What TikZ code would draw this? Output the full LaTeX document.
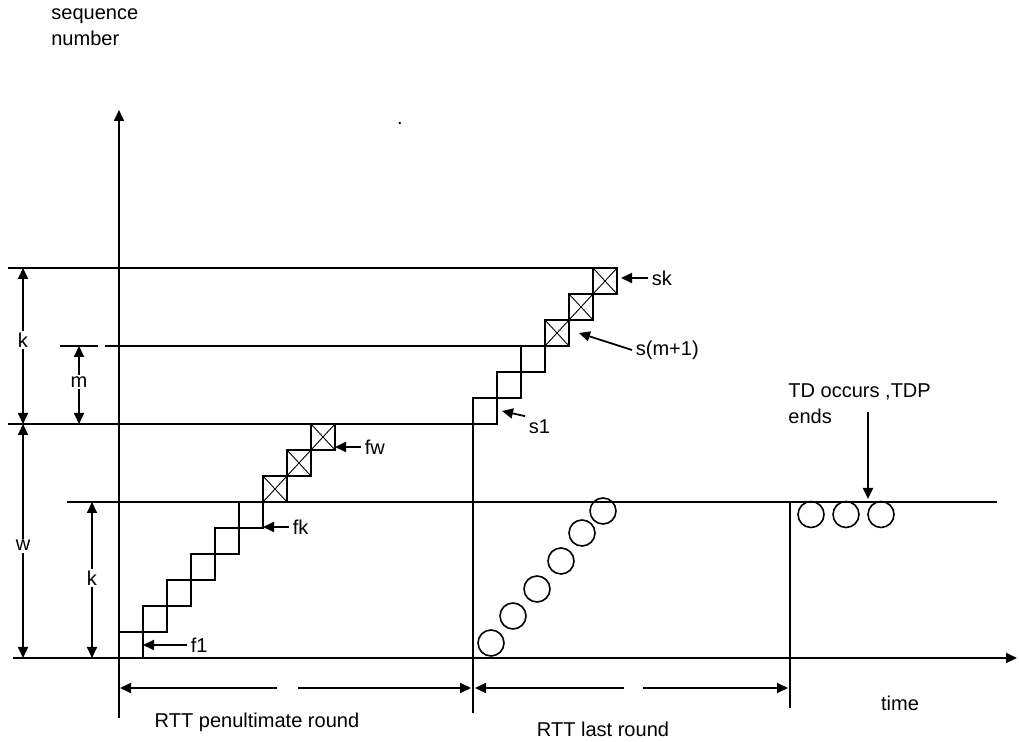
\documentclass[tikz,border=0pt]{standalone}
\usepackage{fontspec}
\setmainfont{Liberation Sans}
\usetikzlibrary{arrows.meta,calc}

\begin{document}
\begin{tikzpicture}[
  pkt/.style={rectangle, draw, line width=1pt, minimum width=0.48cm, minimum height=0.52cm, inner sep=0pt, outer sep=0pt},
  lost/.style={pkt, path picture={\draw[line width=0.5pt] (path picture bounding box.south west) -- (path picture bounding box.north east) (path picture bounding box.north west) -- (path picture bounding box.south east);}},
  ack/.style={circle, draw, line width=0.9pt, minimum size=0.52cm, inner sep=0pt},
  arrow/.style={-{Triangle[length=0.22cm,width=0.2cm]}, line width=1pt},
  dim/.style={{Triangle[length=0.22cm,width=0.2cm]}-{Triangle[length=0.22cm,width=0.2cm]}, line width=1pt},
  guide/.style={line width=1pt},
  tag/.style={fill=white, inner sep=1pt},
  lbl/.style={anchor=west, inner sep=2pt},
  every node/.style={font=\fontsize{11.4pt}{15pt}\selectfont}
]
\useasboundingbox (-2.38,-1.68) rectangle (18.0,13.16);

% Axes
\draw[arrow] (0,-1.2) -- (0,10.96);
\draw[arrow] (-2.12,0) -- (17.96,0);
\node[anchor=north west, align=left, inner sep=0pt] (ylab) at (-1.36,13.0) {sequence\\number};
\node (stray) at (5.62,10.7) {.};

% Penultimate round
\node[pkt] (f1) at (0.24,0.26) {};
\node[pkt] (f2) at (0.72,0.78) {};
\node[pkt] (f3) at (1.20,1.30) {};
\node[pkt] (f4) at (1.68,1.82) {};
\node[pkt] (f5) at (2.16,2.34) {};
\node[pkt] (f6) at (2.64,2.86) {};
\node[lost] (f7) at (3.12,3.38) {};
\node[lost] (f8) at (3.60,3.90) {};
\node[lost] (f9) at (4.08,4.42) {};

% Last round
\node[pkt] (s1) at (7.32,4.94) {};
\node[pkt] (s2) at (7.80,5.46) {};
\node[pkt] (s3) at (8.28,5.98) {};
\node[lost] (s4) at (8.76,6.50) {};
\node[lost] (s5) at (9.24,7.02) {};
\node[lost] (s6) at (9.72,7.54) {};

% Acks
\node[ack] (a1) at (7.44,0.30) {};
\node[ack] (a2) at (7.88,0.84) {};
\node[ack] (a3) at (8.36,1.38) {};
\node[ack] (a4) at (8.84,1.94) {};
\node[ack] (a5) at (9.26,2.50) {};
\node[ack] (a6) at (9.68,2.94) {};
\node[ack] (t1) at (13.84,2.87) {};
\node[ack] (t2) at (14.54,2.87) {};
\node[ack] (t3) at (15.24,2.87) {};

% Guide lines
\coordinate (ktop) at (-2.22,7.80);
\coordinate (mtop) at (-0.28,6.24);
\coordinate (wtop) at (-2.22,4.68);
\draw[guide] (ktop) -- (ktop -| s6.west);
\draw[guide] (-1.18,6.24) -- (-0.42,6.24);
\draw[guide] (mtop) -- (mtop -| s4.west);
\draw[guide] (wtop) -- (wtop -| s1.west);
\draw[guide] (-1.04,3.12) -- (17.56,3.12);
\draw[guide] (s1.south west) -- (7.08,-1.1);
\draw[guide] (13.42,3.12) -- (13.42,-1.0);

% Dimensions
\draw[dim] (-1.92,7.80) -- (-1.92,4.68) node[tag, pos=0.46] (kup) {k};
\draw[dim] (-0.80,6.24) -- (-0.80,4.68) node[tag, pos=0.46] (mdim) {m};
\draw[dim] (-1.92,4.68) -- (-1.92,0) node[tag, pos=0.52] (wdim) {w};
\draw[dim] (-0.54,3.12) -- (-0.54,0) node[tag, pos=0.49] (kdn) {k};

% Packet labels
\node[lbl] (f1l) at (1.36,0.26) {f1};
\node[lbl] (fkl) at (3.40,2.62) {fk};
\node[lbl] (fwl) at (4.84,4.22) {fw};
\node[lbl] (skl) at (10.58,7.60) {sk};
\node[lbl] (sml) at (10.26,6.16) {s(m+1)};
\node[lbl] (s1l) at (8.12,4.62) {s1};
\draw[arrow] (f1l.west) -- (f1l.west -| f1.east);
\draw[arrow] (fkl.west) -- (fkl.west -| f6.east);
\draw[arrow] (fwl.west) -- (fwl.west -| f9.east);
\draw[arrow, shorten >=0.08cm] (skl.west) -- (skl.west -| s6.east);
\draw[arrow] (sml.west) -- ([xshift=0.2cm]s4.east);
\draw[arrow] (s1l.north west) -- ([xshift=0.1cm]s1.east);

% TD event
\node[anchor=north west, align=left, inner sep=0pt] (td) at (13.38,5.5) {TD occurs ,TDP\\ends};
\coordinate (tdtop) at (14.98,4.92);
\coordinate (tdtip) at (14.98,3.18);
\draw[arrow] (tdtop) -- (tdtip);

% Rounds
\draw[arrow] (3.16,-0.6) -- (0.02,-0.6);
\draw[arrow] (3.58,-0.6) -- (7.04,-0.6);
\draw[arrow] (10.10,-0.6) -- (7.12,-0.6);
\draw[arrow] (10.48,-0.6) -- (13.38,-0.6);
\node (pen) at (2.76,-1.28) {RTT penultimate round};
\node (last) at (9.68,-1.42) {RTT last round};
\node (time) at (15.62,-0.9) {time};

\end{tikzpicture}
\end{document}
